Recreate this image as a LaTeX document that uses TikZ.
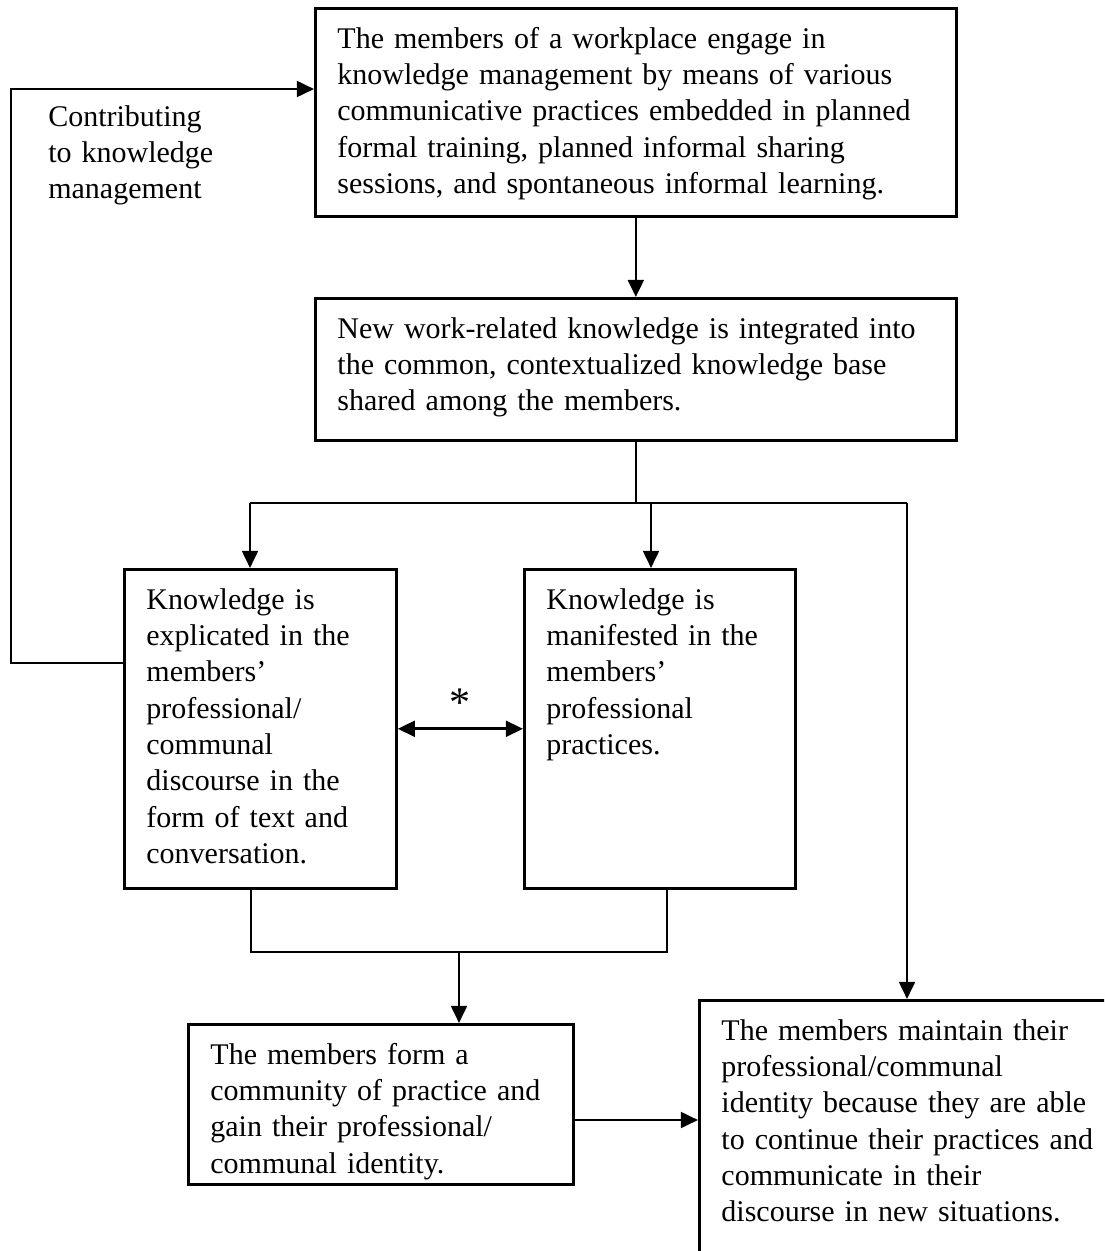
\documentclass[tikz,border=0pt]{standalone}
\usepackage{fontspec}
\setmainfont{Liberation Serif}
\usetikzlibrary{arrows.meta}

\begin{document}
\begin{tikzpicture}[x=0.38pt, y=-0.38pt, line width=1pt, >={Triangle[length=6.5pt,width=6pt]},
  box/.style={draw, anchor=north west, align=left, inner xsep=8.4pt, inner ysep=6.2pt, text height=9pt, font=\fontsize{11.4}{13.8}\selectfont}]
\useasboundingbox (0,0) rectangle (1104,1251);
\clip (0,0) rectangle (1104,1251);
\node[box, text width=226.8pt, text depth=57.6pt] (mgmt) at (314,7) {The members of a workplace engage in\\ knowledge management by means of various\\ communicative practices embedded in planned\\ formal training, planned informal sharing\\ sessions, and spontaneous informal learning.};
\node[box, text width=226.8pt, text depth=32.6pt] (base) at (314,297) {New work-related knowledge is integrated into\\ the common, contextualized knowledge base\\ shared among the members.};
\node[box, text width=86.6pt, text depth=99.8pt] (explic) at (123,568) {Knowledge is\\ explicated in the\\ members'\\ professional/\\ communal\\ discourse in the\\ form of text and\\ conversation.};
\node[box, text width=86.2pt, text depth=99.8pt] (manif) at (523,568) {Knowledge is\\ manifested in the\\ members'\\ professional\\ practices.};
\node[box, text width=129.5pt, text depth=39.4pt] (comm) at (187,1023) {The members form a\\ community of practice and\\ gain their professional/\\ communal identity.};
\node[box, text width=160pt, text depth=130pt] (ident) at (698,999) {The members maintain their\\ professional/communal\\ identity because they are able\\ to continue their practices and\\ communicate in their\\ discourse in new situations.};
\node[anchor=north west, inner sep=0pt, text height=9pt, text width=75pt, align=left, font=\fontsize{11.4}{13.8}\selectfont] (contrib) at (47,101) {Contributing\\ to knowledge\\ management};
\draw[->] (explic.west |- 0,663) -- (11,663) -- (11,89) -- (mgmt.west |- 0,89);
\draw[->] (mgmt.south) -- (base.north);
\coordinate (sl) at (250,503);
\coordinate (sr) at (907,503);
\draw (base.south) -- (base.south |- sl);
\draw (sl) -- (sr);
\draw[->] (sl) -- (sl |- explic.north);
\draw[->] (651,503) -- (651,0 |- manif.north);
\draw[->] (sr) -- (sr |- ident.north);
\draw[<->] (explic.east) -- node[above=1pt, font=\fontsize{16}{16}\selectfont] {*} (manif.west);
\coordinate (jl) at (251,952);
\coordinate (jr) at (667,952);
\draw (jl |- explic.south) -- (jl) -- (jr) -- (jr |- manif.south);
\draw[->] (459,952) -- (459,0 |- comm.north);
\draw[->] (comm.east |- 0,1120) -- (ident.west |- 0,1120);
\end{tikzpicture}
\end{document}
